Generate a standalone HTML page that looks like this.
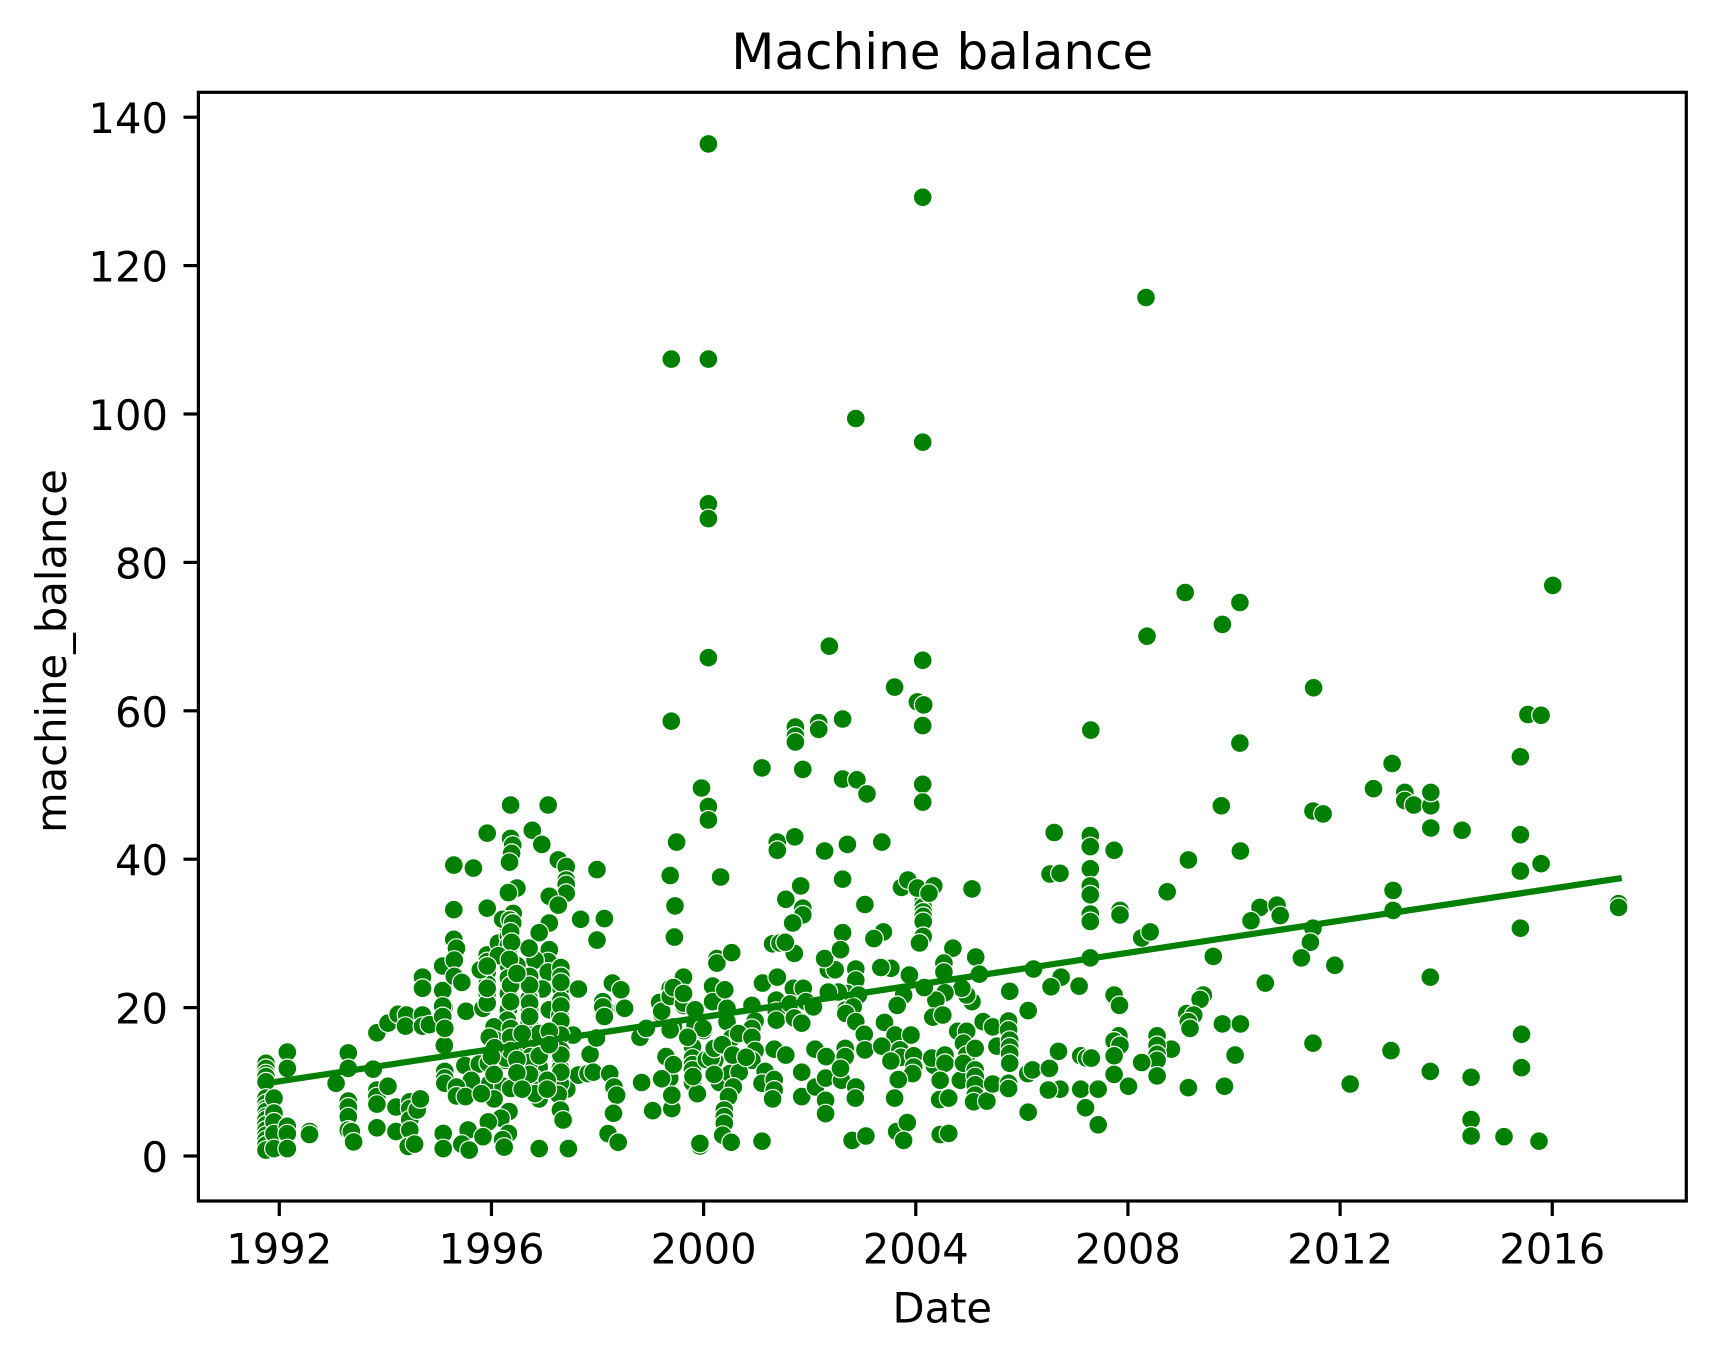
<!DOCTYPE html>
<html lang="en">
<head>
<meta charset="utf-8">
<title>Machine balance</title>
<style>
html,body{margin:0;padding:0;background:#fff;}
svg{display:block;}
text{font-family:"DejaVu Sans","Liberation Sans",sans-serif;fill:#000;}
</style>
</head>
<body>
<svg id="chart" xmlns="http://www.w3.org/2000/svg" width="1716" height="1361" viewBox="0 0 1716 1361">
  <rect x="0" y="0" width="1716" height="1361" fill="#fff"/>
  <g id="points"></g>
  <polyline id="trend" fill="none" stroke="#008000" stroke-width="6.25" stroke-linecap="square"/>
  <rect x="198.4" y="92.3" width="1487.9" height="1108.7" fill="none" stroke="#000" stroke-width="3.2"/>
  <g id="x-axis"></g>
  <g id="y-axis"></g>
  <text x="942.3" y="69" font-size="50" text-anchor="middle">Machine balance</text>
  <text x="942.3" y="1322.5" font-size="41.67" text-anchor="middle">Date</text>
  <text x="0" y="0" font-size="41.67" text-anchor="middle" transform="translate(66 651) rotate(-90)">machine_balance</text>
</svg>
<script>
const xTickLabels = ['1992','1996','2000','2004','2008','2012','2016'];
const yTickLabels = ['0','20','40','60','80','100','120','140'];
const trendDates = [1991.75, 2017.25];
const trendValues = [9.8, 37.4];
const dates = [
1991.75,1991.75,1991.75,1991.75,1991.75,1991.75,1991.75,1991.75,1991.75,1991.75,
1991.75,1991.75,1991.75,1991.75,1991.75,1991.75,1991.75,1991.9,1991.9,1991.9,
1991.9,1991.9,1992.15,1992.15,1992.15,1992.15,1992.15,1992.57,1992.57,1993.07,
1993.3,1993.3,1993.3,1993.3,1993.3,1993.3,1993.36,1993.4,1993.77,1993.84,
1993.84,1993.84,1993.84,1993.84,1994.05,1994.05,1994.2,1994.2,1994.24,1994.4,
1994.38,1994.46,1994.46,1994.46,1994.46,1994.6,1994.66,1994.43,1994.55,1994.7,
1994.7,1994.7,1994.7,1994.83,1995.09,1995.09,1995.11,1995.11,1995.08,1995.08,
1995.08,1995.08,1995.12,1995.12,1995.12,1995.12,1995.29,1995.29,1995.29,1995.34,
1995.3,1995.3,1995.44,1995.52,1995.84,1995.66,1995.92,1995.92,1995.92,1995.92,
1995.92,1995.92,1995.92,1995.92,1995.79,1996.13,1996.36,1996.36,1996.4,1996.38,
1996.34,1996.48,1996.32,1996.32,1996.32,1996.32,1996.32,1996.32,1996.32,1996.32,
1996.32,1996.35,1996.41,1996.21,1996.35,1996.4,1996.48,1996.13,1996.29,1996.04,1996.32,
1996.77,1996.95,1997.07,1997.26,1997.41,1997.41,1997.41,1997.41,1997.09,1997.26,
1997.09,1996.9,1997.68,1998.13,1997.99,1997.99,1996.73,1997.09,1997.07,1996.82,
1996.72,1997.07,1997.31,1997.31,1997.31,1996.96,1997.64,1997.09,1996.72,1996.72,
1996.72,1996.72,1997.31,1997.31,1997.31,1996.32,1996.71,1996.71,1997.31,1997.31,
1997.31,1997.31,1996.9,1996.9,1996.9,1996.66,1996.66,1997.42,1996.26,1996.7,
1995.5,1995.77,1995.94,1995.62,1995.34,1995.34,1995.51,1995.97,1996.22,1996.36,
1996.05,1995.81,1996.27,1996.33,1996.18,1995.94,1995.56,1995.84,1996.32,1996.21,
1995.44,1995.58,1996.24,1996.9,1997.45,1996.79,1997.01,1996.9,1996.82,1997.29,
1996.91,1997.3,1997.3,1997.26,1997.3,1997.35,1997.86,1997.64,1997.82,1997.92,
1998.23,1998.31,1998.36,1998.3,1998.2,1998.39,1997.98,1997.54,1998.8,1998.92,
1998.83,1999.21,1999.36,1999.44,1999.3,1999.4,1999.4,1999.04,1999.79,1999.79,
1999.79,1999.79,1999.79,1999.9,1999.93,1999.93,2000.21,2000.05,2000.31,1999.62,
1999.2,1999.4,1999.84,2000,1996.71,1996.3,1996.3,1996.05,1996.06,1997.29,
1998.14,1998.14,1998.48,1998.1,1998.1,1998.13,1998.28,1998.44,1998.51,1999.17,
1999.21,1999.37,1999.37,1999.62,1999.62,1999.62,1999.84,1999.84,1999.43,2000.17,
2000.17,2000.41,2000.44,2000.44,2000.93,2001.12,2000.97,2000.51,2000.25,2000.25,
1999.96,2000.09,2000.09,1999.49,1999.37,2000.32,1999.46,1999.45,2001.3,2001.44,
2001.87,2001.87,2001.68,2003.04,2002.62,2003.39,2003.21,2004.14,2004.14,2004.14,
2004.14,2004.14,2004.14,2004.14,2004.07,2004.7,2005.13,2004.53,2004.53,2005.2,
2006.22,2005.77,2006.12,2005.06,2004.96,2004.87,2004.55,2004.38,2004.32,2004.51,
2004.16,2003.88,2003.77,2003.65,2003.53,2003.34,2002.87,2002.87,2002.35,2002.48,
2002.28,2002.58,2001.71,2001.54,2000.53,2000.4,2001.11,2001.39,2001.69,2001.88,
2001.37,2001.37,2001.37,2001.63,2001.71,2001.85,2001.93,2002.07,2000.91,2000.97,2000.91,
1999.43,1999.62,1999.84,1999.99,1999.37,2002.71,2002.54,2002.35,2002.92,2002.68,
2002.82,2002.68,2002.87,2003.03,2003.04,2002.67,2002.67,2002.1,2002.31,2003.41,
2003.61,2003.91,2003.36,2003.7,2003.72,2003.96,2003.53,2003.96,2003.94,2003.67,
2003.6,2004.35,2004.3,2004.55,2004.55,2004.46,2004.45,2004.62,2004.84,2004.79,
2004.96,2004.9,2004.96,2005.12,2004.9,2005.12,2005.12,2005.12,2005.12,2005.09,
2005.34,2005.45,2005.27,2005.45,2005.75,2005.75,2005.53,2005.77,2005.77,2005.77,
2005.77,2005.75,2005.75,2006.12,2006.11,2006.2,1999.29,1999.43,1999.21,1999.4,
1999.88,2000.14,2000.3,2000.48,2000.53,2000.66,2000.62,2000.91,2000.97,2000.91,
2000.5,2000.67,2000.56,2000.47,2000.39,2000.39,2000.39,2000.36,2000.52,2001.1,
2001.33,2001.55,2001.16,2001.1,2001.33,2001.33,2001.3,2001.85,2001.85,2002.11,
2002.3,2002.6,2002.58,2002.3,2002.3,2002.87,2002.86,2002.8,2003.06,2003.64,
2003.84,2003.77,2004.46,2004.62,2002.37,2004.13,2003.6,2004.03,2004.15,2004.13,
2002.17,2002.17,2001.73,2001.73,2001.73,2002.62,2001.1,2001.87,2002.62,2002.89,
2003.08,2004.13,2004.13,2007.3,2001.39,2001.39,2001.72,2002.28,2002.71,2003.36,
2001.83,2002.62,2001.55,2003.73,2003.85,2004.03,2004.34,2004.25,2005.06,2006.61,
2007.29,2007.29,2007.29,2007.29,2007.29,2007.29,2007.29,2007.74,2006.53,2006.72,
2007.85,2007.85,2008.74,2009.14,2009.76,2010.12,2008.26,2008.42,2007.29,2009.61,
2010.49,2010.32,2010.81,2010.87,2011.49,2011.68,2012.63,2013.22,2013.22,2013.39,
2013.71,2013.71,2013.71,2013,2013,2011.49,2011.44,2011.27,2011.9,2010.59,
2013.7,2006.74,2006.55,2007.08,2007.74,2007.84,2009.42,2009.36,2009.11,2009.24,
2009.14,2009.17,2009.78,2010.12,2011.49,2010.02,2012.96,2013.7,2009.82,2009.14,
2012.19,2007.83,2007.74,2007.85,2007.74,2007.74,2008.82,2008.55,2008.55,2008.55,
2008.55,2008.55,2008.26,2008.01,2006.69,2006.52,2006.72,2006.5,2007.11,2007.22,
2007.31,2007.11,2007.44,2007.2,2007.44,2011.5,2012.98,2015.4,2015.54,2015.79,
2015.4,2014.3,2015.4,2015.79,2015.4,2016.01,2015.42,2015.42,2014.47,2014.47,
2014.47,2015.09,2015.75,2017.25,2017.25,2000.09,2004.13,2008.34,1999.39,2000.09,
2002.87,2004.13,2000.09,2000.09,2009.08,2010.11,2009.78,2008.36,2000.09,1999.39,
2010.11,
1996.36,1996.38,1996.34,1996.36,1996.36,1996.36,1996.36,1996.36,1996.72,1996.72,
1996.72,1996.72,1996.74,1996.72,1996.72,1997.31,1997.31,1997.31,1997.31,1997.31,
1997.31,1997.31,1995.92,1995.92,1995.96,1996.06,1996,1996.05,1996.48,1996.48,
1996.48,1996.9,1996.9,1997.09,1997.09,1997.05,1997.05,1996.58,1996.58,1999.8,
1999.7,2000.2,2000.35,2000.55,2000.8,2000.2
];
const balances = [
12.5,11.8,11.1,10.7,10,7.8,7.1,6.4,6,5.3,
4.9,4.2,3.5,2.8,2.2,1.5,0.8,7.8,5.8,4.6,
3,1,14,11.8,4,3,1,3.3,2.9,9.8,
13.9,11.8,7.4,6.6,5.3,3.5,3.3,1.9,11.7,16.6,
8.9,8,7,3.8,17.9,9.4,6.6,3.3,19.1,19,
17.5,7.3,6.4,4.9,3.5,6.2,7.7,1.3,1.6,24.1,
22.6,19,17.5,17.7,3.05,1,20.1,14.9,25.6,22.3,
20.2,18.8,17.2,11.4,10.5,9.8,39.2,33.2,29.2,28,
26.4,24.2,23.4,19.5,19.9,38.8,43.5,33.4,27.1,26.2,
24.8,23.2,21.9,20.6,25.1,28.7,47.3,42.8,41.9,40.8,
39.6,36.1,35.5,30.7,29.6,28.4,27.2,25.7,21.9,19.7,
18.3,23.9,32.7,31.9,31.8,31.4,25.7,27,16.3,17.2,24,
43.9,42,47.3,39.9,39,37.2,36.6,35.4,35,33.8,
31.4,30.1,31.9,32,38.6,29.1,27.9,27.8,26.2,26.4,
24.2,24.8,25.4,24.2,22.6,22.5,22.5,19.7,21.5,19.7,
17.9,16.3,21,19.2,17.2,15.2,28,21.2,15.4,12.9,
12,10.7,14.7,12,7.8,12,10.2,9,12.9,14.3,
12.2,12.4,12.5,10.2,9.3,8.1,8,9.8,9.4,9.1,
7.7,8.4,13.2,6,5.1,4.6,3.5,2.6,3.05,2.2,
1.6,0.8,1.2,1,1,10.5,8.8,7.7,8.4,15.6,
14.9,11.8,9.8,8.3,6.2,4.85,13.7,10.9,11.1,11.3,
11.1,9.3,8.2,5.75,3,1.85,15.9,16.3,16,17.2,
9.9,10.3,10.5,12.3,13.4,8.1,6.4,6.1,14.7,13.2,
12.3,11.6,9.9,8.3,1.35,1.7,12.9,13,9.8,20.3,
19.2,17,17.4,16.9,17.9,18.3,16.5,17.4,15.7,19,
18.8,19.9,19.9,20.8,20.1,18.8,23.3,22.4,19.9,20.7,
19.5,22.6,21.5,24.1,21.7,20.6,19.6,17.7,17.4,22.9,
20.8,22.4,19.9,18.1,20.4,23.3,18.1,27.4,26.6,26,
49.6,47.1,45.3,42.3,37.8,37.6,33.7,29.5,28.6,28.7,
33.4,32.5,31.4,33.9,30.1,30.2,29.3,35,34.3,33.6,
32.9,32.3,31.6,29.6,28.7,28,26.8,26,24.8,24.5,
25.2,22.2,19.6,20.8,21.7,22.6,22,21,18.7,19,
22.7,24.4,21.7,20.3,25.3,25.4,25.2,23.7,25.1,25.1,
26.6,27.8,27.3,28.8,27.4,22.4,23.3,24.1,22.6,22.6,
21,19.5,18.3,20.5,18.6,17.9,20.8,20.1,20.3,18.2,17.2,
22.7,21.9,19.7,17.2,17,21.9,22.1,22.1,21.7,19.7,
20.1,19.2,18.1,16.4,14.3,14.5,13.4,14.4,13.4,18,
16.3,16.3,14.8,14.3,13.3,13.5,12.8,12,11.1,10.3,
7.8,12.2,13.2,13.6,12.5,10.2,7.6,7.8,10.2,16.8,
16.8,15.2,13.6,14.5,12.5,11.6,10.7,9.6,8.2,7.3,
7.4,9.7,18.1,17.4,18.2,17,14.8,15.6,14.7,13.8,
12.5,9.8,9.1,5.9,11.1,11.6,13.4,12.3,10.4,8.2,
8.4,13.2,9.9,14.4,15.9,16.5,12.5,16,14.2,12.9,
11.1,11.3,9.3,8,6.2,5.3,4.4,2.8,1.85,2,
14.4,13.6,11.4,9.8,10.3,8.9,7.7,11.3,8,9.3,
10.5,10.2,11.8,7.5,5.7,9.3,7.8,2.1,2.7,3.3,
4.5,2.1,2.9,3.05,68.7,66.8,63.2,61.2,60.8,58,
58.4,57.5,57.8,56.6,55.8,58.9,52.3,52.1,50.8,50.7,
48.8,50.1,47.7,57.4,42.3,41.2,43,41.1,42,42.3,
36.4,37.3,34.6,36.2,37.2,36.1,36.4,35.4,36,43.6,
43.2,41.7,38.7,36.4,35.2,32.6,31.6,41.2,38,38.1,
33.1,32.5,35.6,39.9,47.2,41.1,29.4,30.2,26.7,26.9,
33.5,31.7,33.8,32.4,46.5,46.1,49.5,49,47.9,47.3,
47.2,49,44.2,35.8,33.1,30.7,28.8,26.7,25.7,23.3,
24.1,24.1,22.8,22.9,21.7,20.3,21.7,21.1,19.2,19,
18.1,17.2,17.8,17.8,15.2,13.6,14.2,11.4,9.4,9.2,
9.7,16.2,15.5,14.9,13.5,11,14.4,16.2,14.9,13.7,
12.9,10.8,12.6,9.4,14.1,11.8,9,8.9,13.5,13.2,
13.2,9,9,6.5,4.2,63.1,52.9,53.8,59.5,59.4,
43.3,43.9,38.4,39.4,30.7,76.9,16.4,11.9,10.6,4.9,
2.7,2.6,2,34,33.5,136.4,129.2,115.7,107.4,107.4,
99.4,96.2,87.9,85.9,75.95,74.6,71.65,70.05,67.15,58.6,
55.65,
30.2,28.8,26.5,23,20.8,17.2,16,14.2,23,20.6,
18.8,15.2,13.4,12.6,11,23.4,20.2,18.2,16.3,14.2,
13.6,11.3,22.6,25.6,16,14.6,13.4,11,24.6,13,
11.2,16.5,13.5,16.8,15,10.2,9,16.5,9,10.7,
16,14.5,15,13.6,13.3,11
];

const SVG_NS = 'http://www.w3.org/2000/svg';
function xScale(year) { return 279.3 + (year - 1992) * 53.04; }
function yScale(value) { return 1156 - value * 7.42; }

const pointsGroup = document.getElementById('points');
const pointCount = Math.min(dates.length, balances.length);
for (let i = 0; i < pointCount; i++) {
  const c = document.createElementNS(SVG_NS, 'circle');
  
  
  c.setAttribute('cx', xScale(dates[i]).toFixed(1));
  c.setAttribute('cy', yScale(balances[i]).toFixed(1));
  c.setAttribute('r', '9.4');
  c.setAttribute('fill', '#008000');
  c.setAttribute('stroke', '#fff');
  c.setAttribute('stroke-width', '1.2');
  pointsGroup.appendChild(c);
}

const trend = document.getElementById('trend');
trend.setAttribute('points', trendDates.map(function (d, i) {
  return xScale(d).toFixed(1) + ',' + yScale(trendValues[i]).toFixed(1);
}).join(' '));

const xAxis = document.getElementById('x-axis');
xTickLabels.forEach(function (label) {
  const px = xScale(Number(label));
  const tick = document.createElementNS(SVG_NS, 'line');
  
  
  tick.setAttribute('x1', px);
  tick.setAttribute('x2', px);
  tick.setAttribute('y1', 1201);
  tick.setAttribute('y2', 1216);
  tick.setAttribute('stroke', '#000');
  tick.setAttribute('stroke-width', '3.2');
  xAxis.appendChild(tick);
  const text = document.createElementNS(SVG_NS, 'text');
  
  
  text.setAttribute('x', px);
  text.setAttribute('y', 1263.5);
  text.setAttribute('font-size', '41.67');
  text.setAttribute('text-anchor', 'middle');
  text.textContent = label;
  xAxis.appendChild(text);
});

const yAxis = document.getElementById('y-axis');
yTickLabels.forEach(function (label) {
  const py = yScale(Number(label));
  const tick = document.createElementNS(SVG_NS, 'line');
  
  
  tick.setAttribute('x1', 183.5);
  tick.setAttribute('x2', 198.4);
  tick.setAttribute('y1', py);
  tick.setAttribute('y2', py);
  tick.setAttribute('stroke', '#000');
  tick.setAttribute('stroke-width', '3.2');
  yAxis.appendChild(tick);
  const text = document.createElementNS(SVG_NS, 'text');
  
  
  text.setAttribute('x', 168);
  text.setAttribute('y', py + 16);
  text.setAttribute('font-size', '41.67');
  text.setAttribute('text-anchor', 'end');
  text.textContent = label;
  yAxis.appendChild(text);
});
</script>
</body>
</html>
